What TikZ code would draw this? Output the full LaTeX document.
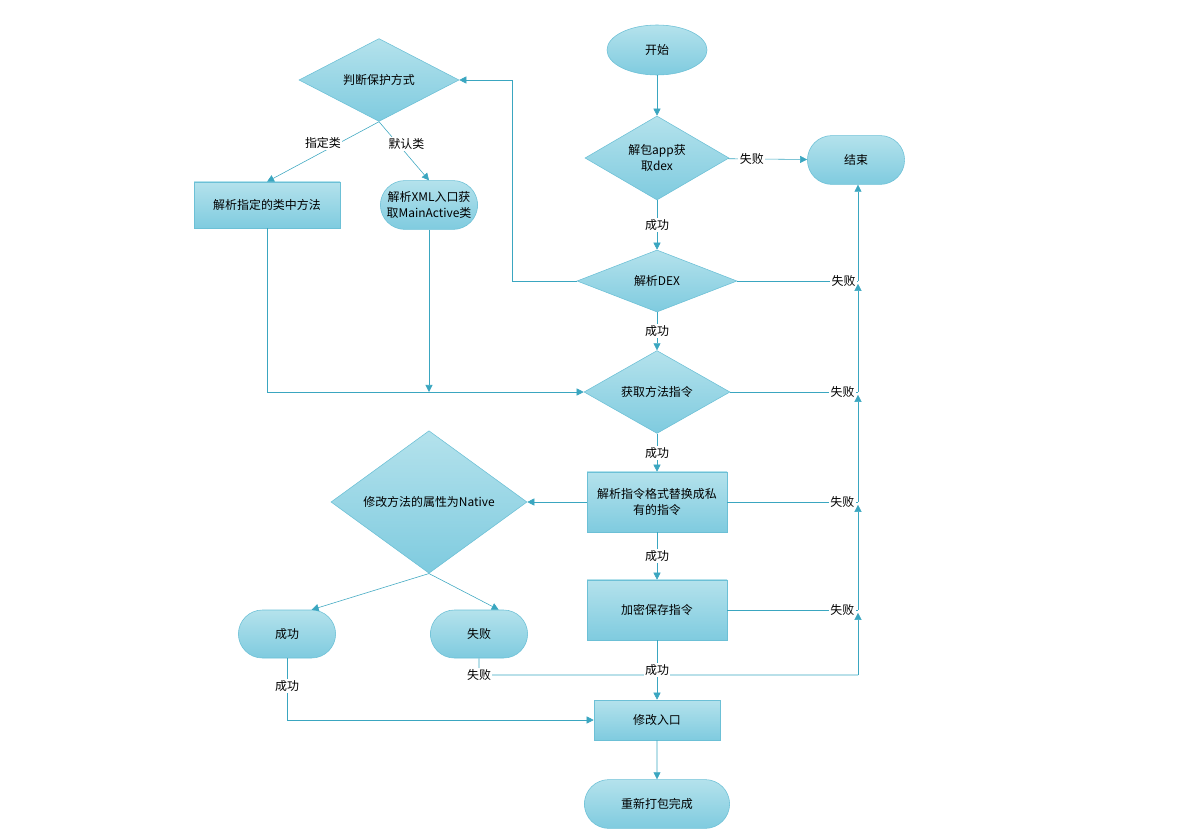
\documentclass[tikz,border=0pt]{standalone}
\usepackage{fontspec}
\setmainfont{Noto Sans CJK SC}
\usetikzlibrary{shapes.geometric,shapes.misc,arrows.meta}
\definecolor{lnc}{HTML}{3AA6C0}
\definecolor{bdc}{HTML}{6CC0D6}
\definecolor{topc}{HTML}{B4E2EC}
\definecolor{botc}{HTML}{7FCBDF}
\tikzset{
  base/.style = {draw=bdc, top color=topc, bottom color=botc, align=center,
                 font=\fontsize{8.5}{11}\selectfont, inner sep=1pt},
  boxnode/.style = {base, rectangle, minimum width=#1*0.025cm, minimum height=1.5cm},
  roundnode/.style = {base, rounded rectangle, minimum width=2.5cm, minimum height=1.22cm},
  decide/.style 2 args = {base, diamond, minimum width=#1*0.025cm,
                 minimum height=#2*0.025cm, inner sep=0pt},
  arr/.style = {draw=lnc, -{Triangle[length=5pt,width=5pt]}},
  lin/.style = {draw=lnc},
  lbl/.style = {fill=white, inner sep=1pt, font=\fontsize{8.5}{11}\selectfont}
}
\begin{document}
\begin{tikzpicture}[x=0.025cm,y=-0.025cm]
\useasboundingbox (0,0) rectangle (1188,840);
% nodes
\node[base, ellipse, minimum width=2.5cm, minimum height=1.25cm] (start) at (657,50) {开始};
\node[decide={144}{84}] (unpack) at (657,158) {解包app获\\取dex};
\node[roundnode] (stop) at (856,160) {结束};
\node[decide={160}{62}] (parse) at (657,281) {解析DEX};
\node[decide={160}{62}] (judge) at (379,80) {判断保护方式};
\node[boxnode=146, minimum height=1.15cm] (given) at (267,205) {解析指定的类中方法};
\node[roundnode] (xml) at (429,205) {解析XML入口获\\取MainActive类};
\node[decide={146}{60}] (fetch) at (657,392) {获取方法指令};
\node[boxnode=140] (replace) at (657,502) {解析指令格式替换成私\\有的指令};
\node[decide={196}{72}] (native) at (429,502) {修改方法的属性为Native};
\node[boxnode=140] (encrypt) at (657,610) {加密保存指令};
\node[roundnode, minimum height=1.2cm] (ok) at (287,634) {成功};
\node[roundnode, minimum height=1.2cm] (bad) at (479,634) {失败};
\node[boxnode=126, minimum height=1cm] (entry) at (657,720) {修改入口};
\node[roundnode, minimum width=3.7cm] (done) at (657,804) {重新打包完成};
% free ends on the right line
\coordinate (r1) at (858,281);
\coordinate (r2) at (858,392);
\coordinate (r3) at (858,502);
\coordinate (r4) at (858,610);
\coordinate (r5) at (858,675);
% main column
\draw[arr] (start) -- (unpack);
\draw[arr] (unpack) -- node[lbl]{成功} (parse);
\draw[arr] (parse) -- node[lbl]{成功} (fetch);
\draw[arr] (fetch) -- node[lbl]{成功} (replace);
\draw[arr] (replace) -- node[lbl]{成功} (encrypt);
\draw[arr] (entry) -- (done);
\draw[arr] (unpack) -- node[lbl, pos=0.3]{失败} (stop);
% failures to the right
\draw[lin] (parse.east) -- node[lbl, pos=0.88]{失败} (r1);
\draw[lin] (fetch.east) -- node[lbl, pos=0.88]{失败} (r2);
\draw[lin] (replace.east) -- node[lbl, pos=0.88]{失败} (r3);
\draw[lin] (encrypt.east) -- node[lbl, pos=0.88]{失败} (r4);
\draw[arr] (r5) -- ([yshift=-2pt]r4);
\draw[arr] (r4) -- ([yshift=-2pt]r3);
\draw[arr] (r3) -- ([yshift=-2pt]r2);
\draw[arr] (r2) -- ([yshift=-2pt]r1);
\draw[arr] (r1) -- (stop.south -| r1);
% left branch
\draw[arr] (parse.west) -- (512,281) |- (judge.east);
\draw[arr] (judge.south) -- node[lbl, pos=0.35, xshift=-12pt]{指定类} (given.north);
\draw[arr] (judge.south) -- node[lbl, pos=0.38, xshift=6pt]{默认类} (xml.north);
\draw[arr] (given.south) |- (fetch.west);
\draw[arr] (xml.south) -- (429,392);
\draw[arr] (replace.west) -- (native.east);
\draw[arr] (native.south) -- (ok.north east);
\draw[arr] (native.south) -- ([xshift=14pt]bad.north);
% bottom
\draw[lin] (bad.south) -- node[lbl, pos=1]{失败} (479,675) -- (650,675)
  arc[start angle=180, end angle=0, radius=0.175cm] -- (r5);
\draw[arr] (encrypt.south) -- node[lbl, pos=0.5]{成功} (entry.north);
\draw[arr] (ok.south) -- node[lbl, pos=0.45]{成功} (287,720) -- (entry.west);
\end{tikzpicture}
\end{document}
